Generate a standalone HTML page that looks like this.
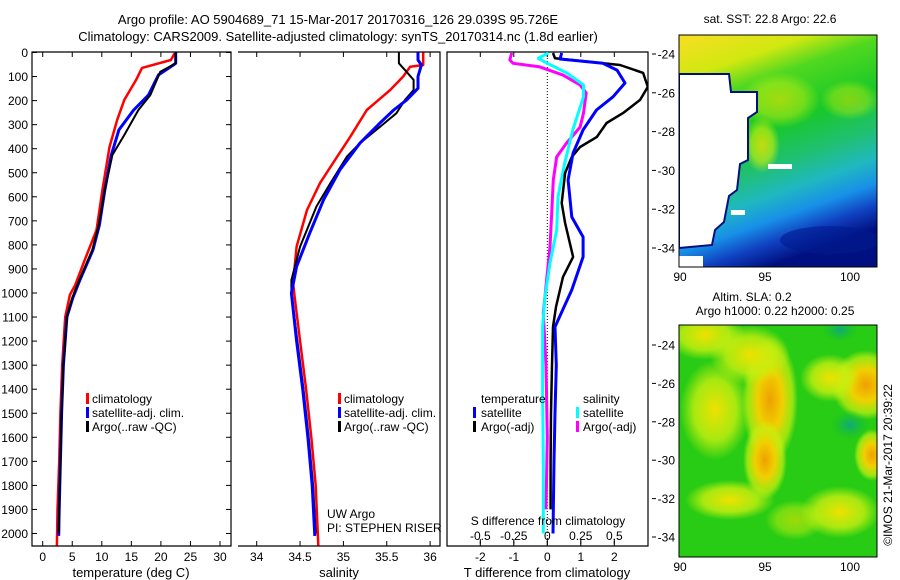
<!DOCTYPE html>
<html><head><meta charset="utf-8"><style>
body{margin:0;background:#fff;}
svg{display:block;font-family:"Liberation Sans",sans-serif;}
text{fill:#000;}
</style></head><body>
<svg id="chart" width="900" height="580" viewBox="0 0 900 580" xmlns="http://www.w3.org/2000/svg">
<defs>
<linearGradient id="sstg" x1="0.15" y1="0" x2="0.45" y2="1">
<stop offset="0" stop-color="#f0e020"/><stop offset="0.14" stop-color="#d0e810"/>
<stop offset="0.25" stop-color="#50d820"/><stop offset="0.45" stop-color="#18c828"/>
<stop offset="0.6" stop-color="#20c070"/><stop offset="0.72" stop-color="#20b8c0"/>
<stop offset="0.82" stop-color="#1890e8"/><stop offset="0.91" stop-color="#1040c0"/><stop offset="1" stop-color="#001080"/>
</linearGradient>
<radialGradient id="blobO"><stop offset="0" stop-color="#f0a000"/><stop offset="0.45" stop-color="#f0d000"/><stop offset="0.8" stop-color="#c8f010" stop-opacity="0.7"/><stop offset="1" stop-color="#c8f010" stop-opacity="0"/></radialGradient>
<radialGradient id="blobY"><stop offset="0" stop-color="#f0e000"/><stop offset="0.6" stop-color="#c8f010" stop-opacity="0.8"/><stop offset="1" stop-color="#c8f010" stop-opacity="0"/></radialGradient>
<radialGradient id="blobT"><stop offset="0" stop-color="#10a880"/><stop offset="1" stop-color="#10c030" stop-opacity="0"/></radialGradient>
<clipPath id="cp1"><rect x="32" y="52" width="199" height="494"/></clipPath>
<clipPath id="cp2"><rect x="238" y="52" width="202" height="494"/></clipPath>
<clipPath id="cp3"><rect x="447" y="52" width="201" height="494"/></clipPath>
<clipPath id="cpm1"><rect x="679" y="35" width="198" height="232"/></clipPath>
<clipPath id="cpm2"><rect x="679" y="325" width="198" height="232"/></clipPath>
</defs>

<text x="338" y="24" font-size="13" text-anchor="middle">Argo profile: AO 5904689_71 15-Mar-2017 20170316_126 29.039S 95.726E</text>
<text x="338" y="41" font-size="13" text-anchor="middle">Climatology: CARS2009. Satellite-adjusted climatology: synTS_20170314.nc (1.8d earlier)</text>

<g id="axes"></g>
<g id="series"></g>

<g font-size="12">
<rect x="86" y="393" width="3" height="11" fill="#f00"/><text x="92" y="403">climatology</text>
<rect x="86" y="407" width="3" height="11" fill="#00f"/><text x="92" y="417">satellite-adj. clim.</text>
<rect x="86" y="421" width="3" height="11" fill="#000"/><text x="92" y="431">Argo(..raw -QC)</text>
</g>
<g font-size="12">
<rect x="338" y="393" width="3" height="11" fill="#f00"/><text x="344" y="403">climatology</text>
<rect x="338" y="407" width="3" height="11" fill="#00f"/><text x="344" y="417">satellite-adj. clim.</text>
<rect x="338" y="421" width="3" height="11" fill="#000"/><text x="344" y="431">Argo(..raw -QC)</text>
</g>
<g font-size="12">
<text x="481" y="403">temperature</text><text x="583" y="403">salinity</text>
<rect x="473" y="407" width="3" height="11" fill="#00f"/><text x="481" y="417">satellite</text>
<rect x="473" y="421" width="3" height="11" fill="#000"/><text x="481" y="431">Argo(-adj)</text>
<rect x="576" y="407" width="3" height="11" fill="#0ff"/><text x="583" y="417">satellite</text>
<rect x="576" y="421" width="3" height="11" fill="#f0f"/><text x="583" y="431">Argo(-adj)</text>
</g>
<text x="327" y="518" font-size="12">UW Argo</text>
<text x="327" y="532" font-size="12">PI: STEPHEN RISER</text>
<text x="548" y="525" font-size="12" text-anchor="middle">S difference from climatology</text>

<g>
<g clip-path="url(#cpm1)">
<rect x="679" y="35" width="198" height="232" fill="url(#sstg)"/>
<ellipse cx="780" cy="100" rx="40" ry="28" fill="url(#blobY)" opacity="0.6"/>
<ellipse cx="850" cy="100" rx="30" ry="20" fill="url(#blobY)" opacity="0.5"/>
<ellipse cx="762" cy="145" rx="18" ry="28" fill="url(#blobY)" opacity="0.8"/>
<ellipse cx="830" cy="240" rx="50" ry="14" fill="#001a90" opacity="0.6"/>
<polygon points="679,74 729,74 731,92 757,92 757,112 748,118 748,160 740,164 737,190 729,196 724,222 715,230 712,245 679,248" fill="#fff" stroke="#001080" stroke-width="2"/>
<rect x="679" y="256" width="24" height="11" fill="#fff"/>
<rect x="768" y="164" width="24" height="5" fill="#fff"/>
<rect x="731" y="210" width="14" height="5" fill="#fff"/>
</g>
<rect x="679" y="35" width="198" height="232" fill="none" stroke="#000"/>
</g>
<g>
<g clip-path="url(#cpm2)">
<rect x="679" y="325" width="198" height="232" fill="#28cc14"/>
<ellipse cx="705" cy="335" rx="40" ry="25" fill="url(#blobY)"/>
<ellipse cx="770" cy="400" rx="28" ry="65" fill="url(#blobO)"/>
<ellipse cx="765" cy="460" rx="22" ry="40" fill="url(#blobO)"/>
<ellipse cx="715" cy="410" rx="35" ry="50" fill="url(#blobY)"/>
<ellipse cx="750" cy="355" rx="40" ry="30" fill="url(#blobY)"/>
<ellipse cx="866" cy="385" rx="35" ry="35" fill="url(#blobO)"/>
<ellipse cx="872" cy="455" rx="18" ry="26" fill="url(#blobO)"/>
<ellipse cx="830" cy="378" rx="30" ry="24" fill="url(#blobY)"/>
<ellipse cx="840" cy="512" rx="40" ry="26" fill="url(#blobY)"/>
<ellipse cx="730" cy="500" rx="45" ry="20" fill="url(#blobY)"/>
<ellipse cx="795" cy="520" rx="30" ry="20" fill="url(#blobY)" opacity="0.6"/>
<ellipse cx="850" cy="425" rx="20" ry="15" fill="url(#blobT)"/>
<ellipse cx="840" cy="330" rx="18" ry="12" fill="url(#blobT)"/>
</g>
<rect x="679" y="325" width="198" height="232" fill="none" stroke="#000"/>
</g>
<text x="770" y="23" font-size="12" text-anchor="middle">sat. SST: 22.8 Argo: 22.6</text>
<text x="752" y="301" font-size="12" text-anchor="middle">Altim. SLA: 0.2</text>
<text x="775" y="315" font-size="12" text-anchor="middle">Argo h1000: 0.22 h2000: 0.25</text>
<text transform="translate(892,465) rotate(-90)" font-size="12" text-anchor="middle">©IMOS 21-Mar-2017 20:39:22</text>
</svg>
<script>
const depthTicks=[0,100,200,300,400,500,600,700,800,900,1000,1100,1200,1300,1400,1500,1600,1700,1800,1900,2000];
const tempTicks=[0,5,10,15,20,25,30];
const salTicks=[34,34.5,35,35.5,36];
const tdiffTicks=[-2,-1,0,1,2];
const sdiffTicks=[-0.5,-0.25,0,0.25,0.5];
const sdiffTickLabels=["-0.5","-0.25","0","0.25","0.5"];
const latTicks=[-24,-26,-28,-30,-32,-34];
const lonTicks=[90,95,100];

const tClimD=[0,31,64,114,197,280,393,572,738,863,967,1008,1100,1300,1500,1700,1900,2050];
const tClimV=[22.4,21.7,16.8,15.8,13.8,12.6,11.3,10.1,9.1,7.1,5.5,4.6,3.8,3.3,3.0,2.8,2.5,2.4];
const tSatD=[0,45,52,93,177,239,322,426,572,717,821,946,1020,1100,1300,1500,1700,1900,2010];
const tSatV=[22.5,22.5,22.1,19.6,17.9,15.4,12.9,11.6,10.5,9.6,8.5,6.3,5.1,4.1,3.5,3.2,3.0,2.8,2.7];
const tArgoD=[0,45,52,80,177,239,343,426,572,717,821,946,1020,1100,1300,1500,1700,1900,2000];
const tArgoV=[22.5,22.5,22.0,19.9,18.2,16.2,13.8,11.8,10.5,9.5,8.4,6.2,5.0,4.1,3.5,3.2,3.0,2.8,2.7];

const sClimD=[0,52,59,100,156,239,350,460,543,655,807,960,1022,1200,1400,1600,1800,2050];
const sClimV=[35.92,35.92,35.77,35.69,35.54,35.27,35.08,34.88,34.73,34.58,34.46,34.42,34.44,34.50,34.57,34.63,34.68,34.71];
const sSatD=[0,31,52,100,149,197,239,294,377,488,613,752,890,1001,1200,1400,1600,1800,2010];
const sSatV=[35.86,35.86,35.9,35.86,35.86,35.73,35.58,35.42,35.19,34.96,34.77,34.61,34.46,34.40,34.46,34.53,34.59,34.64,34.67];
const sArgoD=[0,45,73,114,156,197,253,322,377,433,543,640,807,946,1001,1200,1400,1600,1800,2000];
const sArgoV=[35.64,35.64,35.71,35.81,35.81,35.71,35.61,35.38,35.19,35.04,34.85,34.69,34.5,34.40,34.40,34.47,34.54,34.6,34.65,34.68];

const dtSatD=[2,27,45,73,127,184,239,322,418,530,684,767,850,987,1141,1300,1500,1700,2000];
const dtSatV=[0.43,0.38,1.66,2.08,2.32,1.96,1.47,1.07,0.77,0.62,0.73,1.07,1.07,0.73,0.23,0.27,0.23,0.2,0.17];
const dtArgoD=[2,24,52,85,143,197,252,293,351,393,434,501,626,709,850,933,1058,1141,1300,1500,1700,1900];
const dtArgoV=[0.17,0.23,2.17,2.86,3.0,2.77,2.26,1.77,1.48,0.98,0.73,0.53,0.43,0.53,0.77,0.47,0.26,0.17,0.14,0.11,0.1,0.1];
const dsSatD=[2,24,45,85,135,184,322,460,600,738,875,1016,1141,1400,1700,2000];
const dsSatV=[0.007,-0.067,0,0.145,0.27,0.27,0.19,0.13,0.08,0.07,0.02,-0.017,-0.035,-0.035,-0.03,-0.03];
const dsArgoD=[2,31,45,60,94,135,168,252,310,376,434,530,668,808,946,1083,1300,1600,1900];
const dsArgoV=[-0.266,-0.28,-0.255,-0.055,0.117,0.245,0.29,0.27,0.245,0.145,0.07,0.045,0.033,0.02,-0.005,-0.03,-0.01,0,-0.01];

const yD=d=>52.5+0.2405*d;
const xT=t=>42.7+5.91*t;
const xS=s=>256.7+86.7*(s-34);
const xDT=t=>547.3+33.5*t;
const xDS=s=>547.3+134*s;
const xLon=l=>680+17*(l-90);
const yLat1=l=>54+19.4*(-24-l);
const yLat2=l=>345+19.2*(-24-l);

const NS="http://www.w3.org/2000/svg";
const axes=document.getElementById('axes');
const series=document.getElementById('series');
function mk(tag,attrs,parent){const e=document.createElementNS(NS,tag);for(const k in attrs)e.setAttribute(k,attrs[k]);parent.appendChild(e);return e;}

const f1=mk('path',{d:'M32,52H231V546H32Z',fill:'none',stroke:'#000','stroke-width':1.2},axes);


const f2=mk('path',{d:'M238,52H440V546H238',fill:'none',stroke:'#000','stroke-width':1.2},axes);


const f3=mk('path',{d:'M447,52H648V546H447Z',fill:'none',stroke:'#000','stroke-width':1.2},axes);


const zl=mk('line',{x1:xDT(0),x2:xDT(0),y1:52,y2:546,stroke:'#000','stroke-dasharray':'1,2'},axes);



depthTicks.forEach(d=>{
  const y=yD(d);
  mk('line',{x1:32,x2:37,y1:y,y2:y,stroke:'#000'},axes);
  mk('line',{x1:226,x2:231,y1:y,y2:y,stroke:'#000'},axes);
  const t=mk('text',{x:28,y:y+4.5,'font-size':12,'text-anchor':'end'},axes);
  t.textContent=d;
  
  
});
function xticks(ticks,fx,labels,ylab,name){
  ticks.forEach((v,i)=>{
    const x=fx(v);
    mk('line',{x1:x,x2:x,y1:546,y2:541,stroke:'#000'},axes);
    mk('line',{x1:x,x2:x,y1:52,y2:57,stroke:'#000'},axes);
    const t=mk('text',{x:x,y:ylab,'font-size':12,'text-anchor':'middle'},axes);
    t.textContent=labels?labels[i]:v;
    
    
  });
}
xticks(tempTicks,xT,null,561,'temperature-tick-label');
xticks(salTicks,xS,null,561,'salinity-tick-label');
xticks(tdiffTicks,xDT,null,561,'t-diff-tick-label');
sdiffTicks.forEach((v,i)=>{
  const x=xDS(v);
  mk('line',{x1:x,x2:x,y1:539,y2:544,stroke:'#000'},axes);
  const t=mk('text',{x:x,y:540,'font-size':12,'text-anchor':'middle'},axes);
  t.textContent=sdiffTickLabels[i];
  
  
});
[['temperature (deg C)',131,'temperature-axis-title'],['salinity',339,'salinity-axis-title'],['T difference from climatology',547,'t-diff-axis-title']].forEach(a=>{
  const t=mk('text',{x:a[1],y:577,'font-size':13,'text-anchor':'middle'},axes);
  t.textContent=a[0];
  
  
});
[[yLat1,35,267],[yLat2,325,557]].forEach(m=>{
  latTicks.forEach(l=>{
    const y=m[0](l);
    mk('line',{x1:679,x2:684,y1:y,y2:y,stroke:'#000'},axes);
    mk('line',{x1:872,x2:877,y1:y,y2:y,stroke:'#000'},axes);
    mk('line',{x1:652,x2:656,y1:y,y2:y,stroke:'#000'},axes);
    const t=mk('text',{x:675,y:y+4.5,'font-size':12,'text-anchor':'end'},axes);
    t.textContent=l;
    
    
  });
  lonTicks.forEach(l=>{
    const x=xLon(l);
    mk('line',{x1:x,x2:x,y1:m[2],y2:m[2]-4,stroke:'#000'},axes);
    mk('line',{x1:x,x2:x,y1:m[1],y2:m[1]+4,stroke:'#000'},axes);
    const t=mk('text',{x:x,y:m[2]+14,'font-size':12,'text-anchor':'middle'},axes);
    t.textContent=l;
    
    
  });
});

function line(D,V,fx,color,clip,name,w){
  const pts=D.map((d,i)=>fx(V[i]).toFixed(1)+','+yD(d).toFixed(1)).join(' ');
  const p=mk('polyline',{points:pts,fill:'none',stroke:color,'stroke-width':w||2.5,'clip-path':'url(#'+clip+')','stroke-linejoin':'round'},series);
  
  
}
line(tClimD,tClimV,xT,'#f00','cp1','temperature-climatology-line');
line(tSatD,tSatV,xT,'#00f','cp1','temperature-satellite-line',3);
line(tArgoD,tArgoV,xT,'#000','cp1','temperature-argo-line',2);
line(sClimD,sClimV,xS,'#f00','cp2','salinity-climatology-line');
line(sArgoD,sArgoV,xS,'#000','cp2','salinity-argo-line',2);
line(sSatD,sSatV,xS,'#00f','cp2','salinity-satellite-line',3);
line(dsArgoD,dsArgoV,xDS,'#f0f','cp3','s-diff-argo-line',3);
line(dsSatD,dsSatV,xDS,'#0ff','cp3','s-diff-satellite-line',3);
line(dtArgoD,dtArgoV,xDT,'#000','cp3','t-diff-argo-line',2.5);
line(dtSatD,dtSatV,xDT,'#00f','cp3','t-diff-satellite-line',3);
</script>
</body></html>
